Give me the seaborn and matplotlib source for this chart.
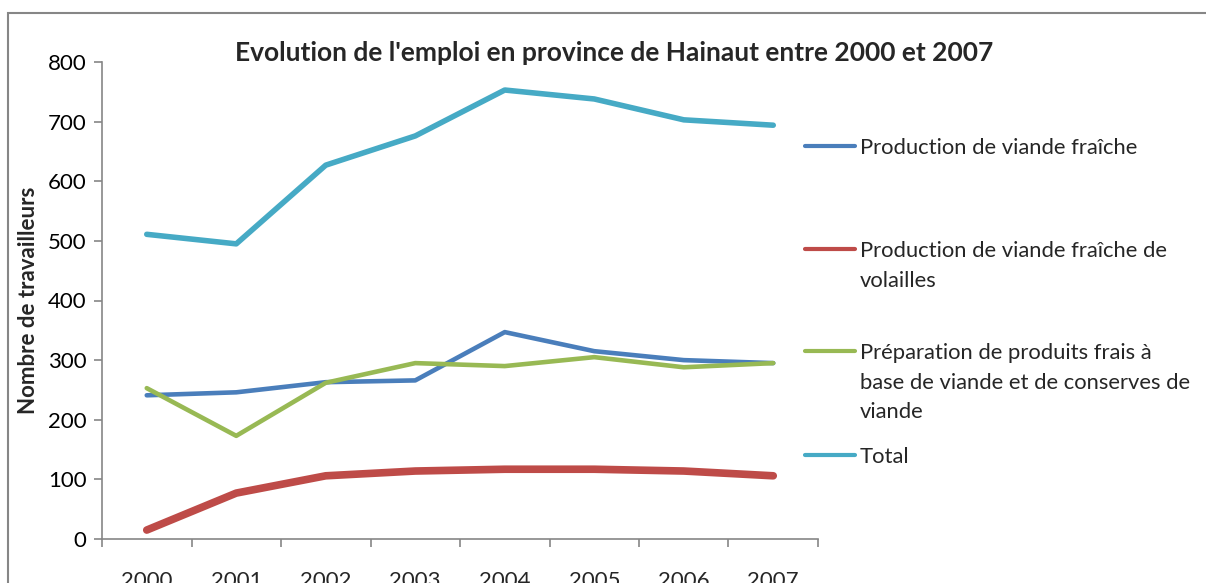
import matplotlib
matplotlib.use("Agg")
import matplotlib.pyplot as plt
import seaborn as sns
import numpy as np
import pandas as pd
from matplotlib.lines import Line2D
from matplotlib.patches import Rectangle

years = ["2000", "2001", "2002", "2003", "2004", "2005", "2006", "2007"]
viande_fraiche = [241, 246, 263, 266, 347, 315, 300, 295]
volailles = [15, 77, 106, 114, 117, 117, 114, 106]
preparation = [253, 173, 262, 295, 290, 305, 288, 295]
total = [511, 495, 627, 676, 753, 738, 703, 694]

series_names = [
    "Production de viande fraîche",
    "Production de viande fraîche de\nvolailles",
    "Préparation de produits frais à\nbase de viande et de conserves de\nviande",
    "Total",
]
series_values = [viande_fraiche, volailles, preparation, total]
colors = ["#4A7EBB", "#BE4B48", "#98B954", "#46AAC5"]
widths = [3.3, 5.5, 3.3, 4.0]

sns.set_theme(style="white")
plt.rcParams["font.family"] = ["Lato", "DejaVu Sans"]

W, H = 1206, 583
fig = plt.figure(figsize=(W / 100, H / 100), dpi=100)
ax = fig.add_axes([102 / W, 1 - 539 / H, (818 - 102) / W, (539 - 62) / H])

x = np.arange(len(years))
for name, vals, c, lw in zip(series_names, series_values, colors, widths):
    df = pd.DataFrame({"x": x, "y": vals})
    sns.lineplot(data=df, x="x", y="y", ax=ax, color=c, linewidth=lw,
                 solid_capstyle="round", solid_joinstyle="round", legend=False)

grey = "#868686"
ax.set_xlim(-0.5, len(years) - 0.5)
ax.set_ylim(0, 800)
ax.set_yticks(np.arange(0, 801, 100))
ax.tick_params(axis="y", labelsize=16, colors="black", length=6, width=1.2,
               color=grey, left=True, pad=5)
ax.set_xticks(x)
ax.set_xticklabels(years)
ax.set_xticks(np.arange(-0.5, len(years)), minor=True)
ax.tick_params(axis="x", which="major", length=0, labelsize=16, pad=23)
ax.tick_params(axis="x", which="minor", length=6, width=1.2, color=grey, bottom=True)
for s in ["top", "right"]:
    ax.spines[s].set_visible(False)
for s in ["left", "bottom"]:
    ax.spines[s].set_color(grey)
    ax.spines[s].set_linewidth(1.2)
ax.set_xlabel("")
ax.set_ylabel("Nombre de travailleurs", fontsize=16, fontweight="bold")
ax.yaxis.set_label_coords(-0.088, 0.5)
ax.grid(False)

fig.text(614 / W, 1 - 53 / H, "Evolution de l'emploi en province de Hainaut entre 2000 et 2007",
         ha="center", va="center", fontsize=19, fontweight="bold")

# legend
leg_y = [146, 249, 351, 455]
for name, c, lw, yy in zip(series_names, colors, widths, leg_y):
    fy = 1 - yy / H
    fig.add_artist(Line2D([805 / W, 855 / W], [fy, fy], color=c, linewidth=3,
                          solid_capstyle="round"))
    fig.text(860 / W, 1 - (yy - 8) / H, name, ha="left", va="top", fontsize=15.8,
             linespacing=1.6)

fig.add_artist(Rectangle((8 / W, -0.1), 1.2, 1 - 13 / H + 0.1, fill=False,
                         edgecolor=grey, linewidth=1.5, transform=fig.transFigure))

fig.savefig("out.png", dpi=100)
